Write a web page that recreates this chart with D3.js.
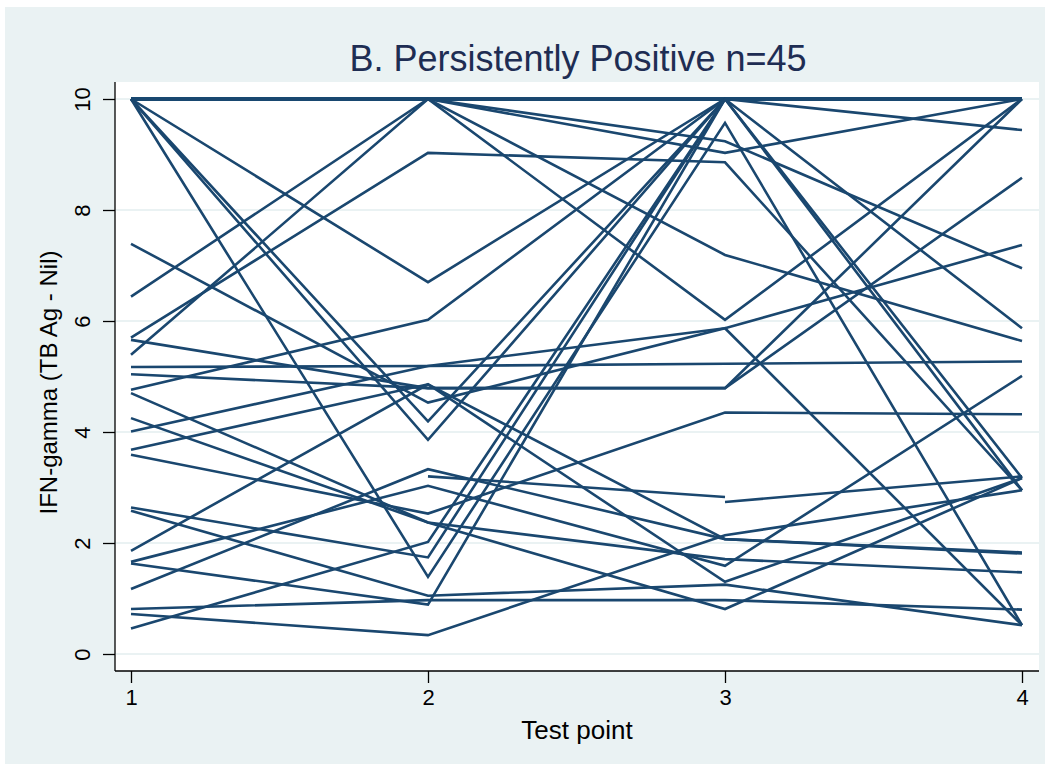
<!DOCTYPE html>
<html>
<head>
<meta charset="utf-8">
<script src="https://cdn.jsdelivr.net/npm/d3@7"></script>
<style>
  html, body { margin: 0; padding: 0; background: #ffffff; }
  svg { display: block; font-family: "Liberation Sans", Arial, sans-serif; }
</style>
</head>
<body>
<svg id="chart" width="1050" height="770"></svg>
<script>
// IFN-gamma response (TB Ag - Nil) per subject at each of the four test points.
// Index i across the four arrays is one subject; null = no measurement.
const testPoints = [1, 2, 3, 4];
const tp1 = [10,10,10,10,10,10,10,10,10,10,10,10,10,10,10,10,10,10,10,10,10,
             7.39,6.44,5.70,5.66,5.39,5.17,5.04,4.76,4.70,4.25,4.01,3.68,3.59,
             2.64,2.58,1.86,1.66,1.63,1.17,0.81,0.72,0.46,null,null];
const tp2 = [10,10,10,10,10,10,10,10,10,10,10,10,10,10,10,10,10,6.70,4.19,3.86,1.39,
             4.53,10,9.03,4.79,10,5.19,4.79,6.02,2.37,2.37,5.19,4.86,2.53,
             1.74,1.05,4.86,3.03,0.89,3.33,0.97,0.34,2.02,3.20,null];
const tp3 = [10,10,10,10,10,10,10,10,10,10,10,10,10,9.24,9.03,6.02,10,10,10,10,9.57,
             5.87,10,8.86,4.79,7.19,5.23,4.79,10,1.71,0.81,5.87,2.07,4.35,
             10,1.25,1.30,1.59,10,2.07,0.97,2.14,10,2.83,2.74];
const tp4 = [10,10,10,10,10,10,10,10,10,10,9.44,5.87,2.95,6.95,10,10,10,10,10,3.17,0.52,
             0.52,10,2.95,8.58,5.64,5.27,10,10,1.47,3.17,7.37,1.83,4.32,
             10,0.52,3.17,5.01,10,1.81,0.80,2.95,10,null,3.20];

const yTicks = [0, 2, 4, 6, 8, 10];
const chartTitle = "B. Persistently Positive n=45";
const xTitle = "Test point";
const yTitle = "IFN-gamma (TB Ag - Nil)";

const svg = d3.select("#chart");

// graph region and plot region
const outer = { x: 5, y: 7, w: 1040, h: 757 };
const plot = { left: 115, top: 82, right: 1039, bottom: 671 };

const x = d3.scaleLinear().domain([1, 4]).range([131, 1022]);
const y = d3.scaleLinear().domain([0, 10]).range([654, 99]);

svg.append("rect").attr("x", outer.x).attr("y", outer.y)
  .attr("width", outer.w).attr("height", outer.h).attr("fill", "#eaf2f3");
svg.append("rect").attr("x", plot.left).attr("y", plot.top)
  .attr("width", plot.right - plot.left).attr("height", plot.bottom - plot.top)
  .attr("fill", "#ffffff");

// horizontal grid
svg.append("g").selectAll("line").data(yTicks).join("line")
  .attr("x1", plot.left + 1).attr("x2", plot.right)
  .attr("y1", d => y(d)).attr("y2", d => y(d))
  .attr("stroke", "#eaf2f3").attr("stroke-width", 2);

// subject trajectories
const subjects = tp1.map((v, i) => [tp1[i], tp2[i], tp3[i], tp4[i]]);
const line = d3.line()
  .defined(d => d[1] !== null)
  .x(d => x(d[0])).y(d => y(d[1]));
svg.append("g").attr("fill", "none").attr("stroke", "#1a476f")
  .attr("stroke-width", 2.6).attr("stroke-linejoin", "miter")
  .selectAll("path").data(subjects).join("path")
  .attr("d", s => line(s.map((v, j) => [testPoints[j], v])));

// axes
const yAxis = d3.axisLeft(y).tickValues(yTicks).tickSize(12).tickPadding(8);
const gy = svg.append("g").attr("transform", `translate(${plot.left},0)`).call(yAxis);
gy.select(".domain").attr("d", `M0,${plot.top}V${plot.bottom}`).attr("stroke", "#000").attr("stroke-width", 1.3);
gy.selectAll(".tick line").attr("stroke", "#000").attr("stroke-width", 1.3);
gy.selectAll(".tick text")
  .attr("font-size", 22).attr("fill", "#000")
  .attr("text-anchor", "middle").attr("dy", 0)
  .attr("transform", "translate(-25,0) rotate(-90)")
  .attr("x", 0).attr("y", 0);

const xAxis = d3.axisBottom(x).tickValues(testPoints).tickSize(12).tickPadding(6).tickFormat(d3.format("d"));
const gx = svg.append("g").attr("transform", `translate(0,${plot.bottom})`).call(xAxis);
gx.select(".domain").attr("d", `M${plot.left},0H${plot.right}`).attr("stroke", "#000").attr("stroke-width", 1.3);
gx.selectAll(".tick line").attr("stroke", "#000").attr("stroke-width", 1.3);
gx.selectAll(".tick text").attr("font-size", 22).attr("fill", "#000");

// titles
svg.append("text").attr("x", 578).attr("y", 71).attr("text-anchor", "middle")
  .attr("font-size", 36).attr("fill", "#1e2d53").text(chartTitle);
svg.append("text").attr("x", 577).attr("y", 739).attr("text-anchor", "middle")
  .attr("font-size", 26).attr("fill", "#000").text(xTitle);
svg.append("text").attr("transform", `translate(57,${(plot.top + plot.bottom) / 2 + 6}) rotate(-90)`)
  .attr("text-anchor", "middle").attr("font-size", 24).attr("fill", "#000").text(yTitle);
</script>
</body>
</html>
